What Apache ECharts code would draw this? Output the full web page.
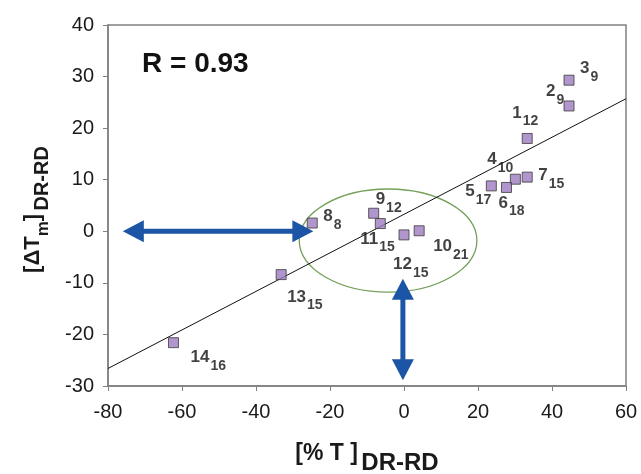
<!DOCTYPE html>
<html><head><meta charset="utf-8">
<script src="https://cdn.jsdelivr.net/npm/echarts@6/dist/echarts.min.js"></script>
<style>html,body{margin:0;padding:0;background:#fff}#c{width:641px;height:474px}</style>
</head><body><div id="c"></div>
<script>
// ---- data ----
const pointIds  = ['1','2','3','4','5','6','7','8','9','10','11','12','13','14'];
const pointSubs = ['12','9','9','10','17','18','15','8','12','21','15','15','15','16'];
const xValues   = [33.3, 44.6, 44.6, 30.1, 23.6, 27.7, 33.3, -24.8, -8.2, 4.1, -6.4, 0.0, -33.2, -62.3];
const yValues   = [18.0, 24.3, 29.3, 10.1, 8.8, 8.5, 10.5, 1.6, 3.5, 0.1, 1.5, -0.7, -8.4, -21.6];
const fitLineX  = [-80, 60];
const fitLineY  = [-26.6, 25.7];
const ellipseCenter = [-4.3, -1.8];
const ellipseRadii  = [24, 10];
const arrowStarts = [[-76, 0], [-0.3, -9.2]];
const arrowEnds   = [[-24.5, 0], [-0.3, -28.9]];
const xAxisRange = [-80, 60, 20];
const yAxisRange = [-30, 40, 10];
const rText = 'R = 0.93';

// ---- layout (pixel offsets of each label box from its point) ----
const labelOffsets = [[-15,-34],[-23,-23],[11,-20],[-28,-28],[-26,-3],[-8,7],[11,-10],
                      [11,-15],[2,-22],[14,7],[-20,7],[-11,21],[6,14],[17,6]];

const chart = echarts.init(document.getElementById('c'), null, {renderer: 'canvas'});
const FONT = 'Liberation Sans, Arial, sans-serif';
const blue = '#1c55a6';

const scatterData = xValues.map((x, i) => ({
  value: [x, yValues[i]],
  label: { offset: labelOffsets[i] }
}));

const arrowData = arrowStarts.map((s, i) => [s[0], s[1], arrowEnds[i][0], arrowEnds[i][1]]);

function arrowRender(params, api) {
  const p1 = api.coord([api.value(0), api.value(1)]);
  const p2 = api.coord([api.value(2), api.value(3)]);
  const dx = p2[0] - p1[0], dy = p2[1] - p1[1];
  const len = Math.hypot(dx, dy);
  const ux = dx / len, uy = dy / len, nx = -uy, ny = ux;
  const hl = 21, hw = 11;
  const head = (tip, d) => [
    [tip[0], tip[1]],
    [tip[0] - d[0] * hl + nx * hw, tip[1] - d[1] * hl + ny * hw],
    [tip[0] - d[0] * hl - nx * hw, tip[1] - d[1] * hl - ny * hw]
  ];
  return {
    type: 'group',
    children: [
      { type: 'line', shape: { x1: p1[0] + ux * 15, y1: p1[1] + uy * 15, x2: p2[0] - ux * 15, y2: p2[1] - uy * 15 },
        style: { stroke: blue, lineWidth: 5 } },
      { type: 'polygon', shape: { points: head(p2, [ux, uy]) }, style: { fill: blue } },
      { type: 'polygon', shape: { points: head(p1, [-ux, -uy]) }, style: { fill: blue } }
    ]
  };
}

function ellipseRender(params, api) {
  const c = api.coord([api.value(0), api.value(1)]);
  const s = api.size([api.value(2), api.value(3)]);
  return {
    type: 'ellipse',
    shape: { cx: c[0], cy: c[1], rx: s[0], ry: s[1] },
    style: { fill: 'none', stroke: '#74a05a', lineWidth: 1.3 }
  };
}

const option = {
  backgroundColor: '#fff',
  animation: false,
  grid: { left: 108, right: 15, top: 25, bottom: 88, show: true, borderColor: '#808080', borderWidth: 1.5,
          containLabel: false, outerBoundsMode: 'none' },
  xAxis: {
    type: 'value', min: xAxisRange[0], max: xAxisRange[1], interval: xAxisRange[2],
    axisLine: { show: true, onZero: false, lineStyle: { color: '#808080', width: 1.5 } },
    axisTick: { show: true, length: 5, lineStyle: { color: '#808080' } },
    splitLine: { show: false },
    axisLabel: { color: '#1a1a1a', fontSize: 20, fontFamily: FONT, margin: 16 },
    name: '{a|[% T ]} {b|DR-RD}',
    nameLocation: 'middle', nameGap: 56,
    nameTextStyle: {
      rich: {
        a: { fontSize: 23, fontWeight: 'bold', fontFamily: FONT, color: '#1a1a1a', lineHeight: 23, verticalAlign: 'top' },
        b: { fontSize: 24, fontWeight: 'bold', fontFamily: FONT, color: '#1a1a1a', lineHeight: 33, verticalAlign: 'bottom' }
      }
    }
  },
  yAxis: {
    type: 'value', min: yAxisRange[0], max: yAxisRange[1], interval: yAxisRange[2],
    axisLine: { show: true, onZero: false, lineStyle: { color: '#808080', width: 1.5 } },
    axisTick: { show: true, length: 5, lineStyle: { color: '#808080' } },
    splitLine: { show: false },
    axisLabel: { color: '#1a1a1a', fontSize: 20, fontFamily: FONT, margin: 14 },
    name: '{a|[ΔT}{s|m}{a|]} {b|DR-RD}',
    nameLocation: 'middle', nameGap: 56, nameRotate: 90,
    nameTextStyle: {
      padding: [0, 8, 0, 0],
      rich: {
        a: { fontSize: 22, fontWeight: 'bold', fontFamily: FONT, color: '#1a1a1a', lineHeight: 22, verticalAlign: 'top' },
        s: { fontSize: 17, fontWeight: 'bold', fontFamily: FONT, color: '#1a1a1a', lineHeight: 30, verticalAlign: 'bottom' },
        b: { fontSize: 20, fontWeight: 'bold', fontFamily: FONT, color: '#1a1a1a', lineHeight: 25, verticalAlign: 'bottom' }
      }
    }
  },
  graphic: [{
    type: 'text', left: 142, top: 50,
    style: { text: rText, font: 'bold 28px ' + FONT, fill: '#111' }
  }],
  series: [
    {
      type: 'custom', renderItem: ellipseRender, z: 1, silent: true,
      data: [[ellipseCenter[0], ellipseCenter[1], ellipseRadii[0], ellipseRadii[1]]],
      encode: { x: 0, y: 1 }, clip: false
    },
    {
      type: 'line', z: 2, symbol: 'none', silent: true,
      data: fitLineX.map((x, i) => [x, fitLineY[i]]),
      lineStyle: { color: '#111', width: 1 }
    },
    {
      type: 'custom', renderItem: arrowRender, z: 3, silent: true,
      data: arrowData, encode: { x: [0, 2], y: [1, 3] }, clip: false
    },
    {
      type: 'scatter', z: 4, symbol: 'rect', symbolSize: 10,
      itemStyle: { color: '#9d7cc0', borderColor: '#3b3b3b', borderWidth: 1 },
      data: scatterData,
      label: {
        show: true, position: 'inside', align: 'left', verticalAlign: 'top',
        formatter: p => '{a|' + pointIds[p.dataIndex] + '}{b|' + pointSubs[p.dataIndex] + '}',
        rich: {
          a: { fontSize: 17, fontWeight: 'bold', fontFamily: FONT, color: '#111', lineHeight: 17, verticalAlign: 'top' },
          b: { fontSize: 14, fontWeight: 'bold', fontFamily: FONT, color: '#111', lineHeight: 24, verticalAlign: 'bottom', padding: [0, 0, 0, 1] }
        }
      }
    }
  ]
};
chart.setOption(option);
</script>
</body></html>
